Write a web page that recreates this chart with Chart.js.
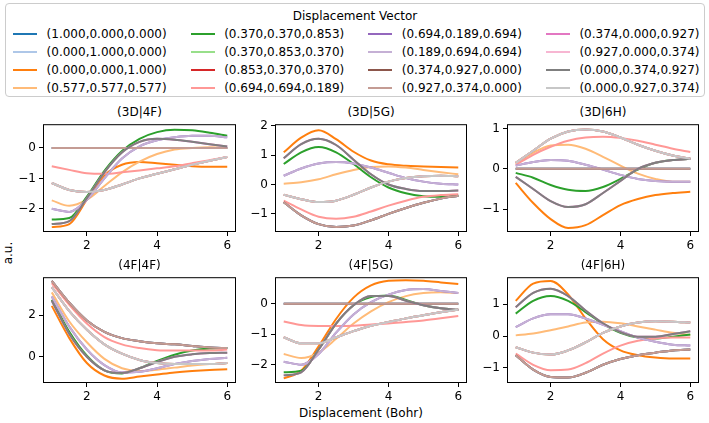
<!DOCTYPE html>
<html>
<head>
<meta charset="utf-8">
<script src="https://cdn.jsdelivr.net/npm/chart.js@4.4.1/dist/chart.umd.min.js"></script>
<style>
  body { margin: 0; width: 709px; height: 423px; position: relative; overflow: hidden; background: #fff;
         font-family: 'DejaVu Sans', sans-serif; color: #000; }
  #legend { position: absolute; left: 5px; top: 3px; width: 698px; height: 92px;
            border: 1px solid #ccc; border-radius: 4px; background: #fff; }
  .lg-title { position: absolute; left: 0; width: 100%; top: 5px; text-align: center; font-size: 12px; line-height: 14px; }
  .lg-line { position: absolute; width: 24px; height: 2px; }
  .lg-text { position: absolute; font-size: 12px; line-height: 14px; white-space: nowrap; }
  .ptitle { position: absolute; font-size: 12px; line-height: 14px; text-align: center; width: 200px; }
  canvas { position: absolute; }
  #xlab { position: absolute; left: 261px; width: 200px; top: 406px; text-align: center; font-size: 12px; line-height: 14px; }
  #ylab { position: absolute; left: -12px; top: 246px; width: 40px; text-align: center; font-size: 12px; line-height: 14px;
          transform: rotate(-90deg); }
</style>
</head>
<body>
<div id="legend"><div class="lg-title">Displacement Vector</div></div>
<div id="xlab">Displacement (Bohr)</div>
<div id="ylab">a.u.</div>
<script>
'use strict';

// ── data ────────────────────────────────────────────────────
const seriesLabels = [
  '(1.000,0.000,0.000)', '(0.000,1.000,0.000)', '(0.000,0.000,1.000)', '(0.577,0.577,0.577)',
  '(0.370,0.370,0.853)', '(0.370,0.853,0.370)', '(0.853,0.370,0.370)', '(0.694,0.694,0.189)',
  '(0.694,0.189,0.694)', '(0.189,0.694,0.694)', '(0.374,0.927,0.000)', '(0.927,0.374,0.000)',
  '(0.374,0.000,0.927)', '(0.927,0.000,0.374)', '(0.000,0.374,0.927)', '(0.000,0.927,0.374)'
];
const xs = [1, 1.5, 2, 2.5, 3, 3.5, 4, 4.5, 5, 5.5, 6];
const xTicks = [2, 4, 6];

// which read-off curve each vector follows (overlapping vectors share a curve)
const seriesCurve = ['lbrown', 'lbrown', 'orange', 'lorange', 'green', 'lgray', 'lgray', 'salmon',
                     'lpurple', 'lpurple', 'lbrown', 'lbrown', 'gray', 'lgray', 'gray', 'lgray'];

// (3D|4F)
const d3D4F_orange  = [-2.6, -2.5, -1.7, -0.9, -0.55, -0.46, -0.5, -0.55, -0.6, -0.62, -0.62];
const d3D4F_lorange = [-1.72, -1.9, -1.7, -1.25, -0.8, -0.45, -0.2, -0.05, 0.0, 0.02, 0.0];
const d3D4F_green   = [-2.35, -2.3, -1.6, -0.75, -0.1, 0.3, 0.52, 0.6, 0.58, 0.5, 0.4];
const d3D4F_salmon  = [-0.6, -0.72, -0.83, -0.85, -0.8, -0.74, -0.67, -0.6, -0.5, -0.4, -0.3];
const d3D4F_lpurple = [-2.0, -2.1, -1.7, -1.0, -0.35, 0.05, 0.25, 0.35, 0.4, 0.4, 0.35];
const d3D4F_lbrown  = [0, 0, 0, 0, 0, 0, 0, 0, 0, 0, 0];
const d3D4F_gray    = [-2.5, -2.4, -1.65, -0.8, -0.15, 0.2, 0.3, 0.27, 0.2, 0.12, 0.05];
const d3D4F_lgray   = [-1.15, -1.38, -1.45, -1.38, -1.2, -1.0, -0.85, -0.7, -0.55, -0.42, -0.3];

// (3D|5G)
const d3D5G_orange  = [1.1, 1.6, 1.85, 1.55, 1.12, 0.82, 0.69, 0.64, 0.62, 0.6, 0.58];
const d3D5G_lorange = [0.03, 0.08, 0.18, 0.35, 0.5, 0.6, 0.62, 0.58, 0.5, 0.42, 0.35];
const d3D5G_green   = [0.7, 1.1, 1.28, 1.1, 0.7, 0.25, -0.1, -0.3, -0.4, -0.42, -0.38];
const d3D5G_salmon  = [-0.55, -0.85, -1.1, -1.17, -1.1, -0.92, -0.72, -0.55, -0.42, -0.36, -0.33];
const d3D5G_lpurple = [0.3, 0.55, 0.72, 0.77, 0.72, 0.58, 0.4, 0.22, 0.1, 0.03, 0.0];
const d3D5G_lbrown  = [-0.6, -1.05, -1.35, -1.45, -1.4, -1.22, -1.0, -0.8, -0.62, -0.48, -0.38];
const d3D5G_gray    = [0.9, 1.38, 1.56, 1.35, 0.85, 0.35, 0.0, -0.15, -0.22, -0.22, -0.2];
const d3D5G_lgray   = [-0.35, -0.5, -0.6, -0.55, -0.35, -0.1, 0.1, 0.22, 0.28, 0.3, 0.28];

// (3D|6H)
const d3D6H_orange  = [-0.35, -0.85, -1.25, -1.47, -1.4, -1.15, -0.9, -0.75, -0.65, -0.6, -0.57];
const d3D6H_lorange = [0.12, 0.4, 0.58, 0.6, 0.5, 0.3, 0.08, -0.12, -0.25, -0.32, -0.32];
const d3D6H_green   = [-0.1, -0.22, -0.4, -0.52, -0.55, -0.45, -0.25, -0.02, 0.15, 0.22, 0.25];
const d3D6H_salmon  = [0.1, 0.35, 0.55, 0.7, 0.78, 0.8, 0.77, 0.7, 0.6, 0.5, 0.42];
const d3D6H_lpurple = [0.08, 0.17, 0.22, 0.2, 0.1, -0.02, -0.15, -0.25, -0.3, -0.32, -0.32];
const d3D6H_lbrown  = [0, 0, 0, 0, 0, 0, 0, 0, 0, 0, 0];
const d3D6H_gray    = [-0.2, -0.5, -0.8, -0.95, -0.88, -0.6, -0.3, 0.0, 0.15, 0.22, 0.25];
const d3D6H_lgray   = [0.15, 0.45, 0.75, 0.93, 0.98, 0.93, 0.78, 0.6, 0.45, 0.33, 0.25];

// (4F|4F)
const d4F4F_orange  = [2.45, 0.9, -0.3, -0.9, -1.05, -0.95, -0.85, -0.75, -0.68, -0.63, -0.6];
const d4F4F_lorange = [3.1, 1.7, 0.7, -0.1, -0.55, -0.68, -0.62, -0.52, -0.42, -0.35, -0.3];
const d4F4F_green   = [2.75, 1.2, 0.05, -0.65, -0.8, -0.55, -0.2, 0.1, 0.3, 0.4, 0.42];
const d4F4F_salmon  = [3.55, 2.5, 1.6, 0.95, 0.6, 0.42, 0.32, 0.3, 0.3, 0.3, 0.35];
const d4F4F_lpurple = [2.9, 1.45, 0.35, -0.4, -0.75, -0.72, -0.55, -0.35, -0.2, -0.1, -0.05];
const d4F4F_lbrown  = [3.65, 2.6, 1.75, 1.2, 0.9, 0.75, 0.65, 0.6, 0.52, 0.45, 0.42];
const d4F4F_gray    = [2.7, 1.1, 0.0, -0.65, -0.78, -0.55, -0.25, 0.0, 0.12, 0.18, 0.2];
const d4F4F_lgray   = [3.35, 2.2, 1.3, 0.6, 0.15, -0.15, -0.3, -0.35, -0.35, -0.35, -0.3];

// (4F|5G)
const d4F5G_orange  = [-2.45, -2.2, -1.4, -0.5, 0.2, 0.6, 0.75, 0.77, 0.75, 0.7, 0.65];
const d4F5G_lorange = [-1.65, -1.78, -1.6, -1.15, -0.65, -0.25, 0.05, 0.25, 0.35, 0.38, 0.35];
const d4F5G_green   = [-2.25, -2.2, -1.5, -0.65, -0.05, 0.22, 0.27, 0.12, -0.05, -0.15, -0.2];
const d4F5G_salmon  = [-0.58, -0.7, -0.73, -0.73, -0.72, -0.68, -0.65, -0.6, -0.55, -0.48, -0.4];
const d4F5G_lpurple = [-1.9, -2.0, -1.65, -0.95, -0.35, 0.05, 0.3, 0.45, 0.48, 0.42, 0.35];
const d4F5G_lbrown  = [0, 0, 0, 0, 0, 0, 0, 0, 0, 0, 0];
const d4F5G_gray    = [-2.35, -2.25, -1.5, -0.65, -0.05, 0.25, 0.25, 0.1, -0.05, -0.15, -0.2];
const d4F5G_lgray   = [-1.1, -1.3, -1.3, -1.1, -0.9, -0.72, -0.6, -0.48, -0.38, -0.28, -0.2];

// (4F|6H)
const d4F6H_orange  = [1.1, 1.64, 1.72, 1.3, 0.55, -0.1, -0.45, -0.6, -0.67, -0.7, -0.7];
const d4F6H_lorange = [0.02, 0.08, 0.18, 0.3, 0.42, 0.45, 0.4, 0.3, 0.2, 0.1, 0.03];
const d4F6H_green   = [0.7, 1.1, 1.25, 1.1, 0.75, 0.38, 0.1, -0.05, -0.08, -0.02, 0.05];
const d4F6H_salmon  = [-0.55, -0.9, -1.07, -1.05, -0.85, -0.55, -0.3, -0.15, -0.08, -0.05, -0.05];
const d4F6H_lpurple = [0.28, 0.55, 0.68, 0.68, 0.55, 0.35, 0.15, -0.05, -0.18, -0.27, -0.3];
const d4F6H_lbrown  = [-0.6, -1.05, -1.28, -1.3, -1.15, -0.9, -0.72, -0.6, -0.52, -0.45, -0.42];
const d4F6H_gray    = [0.9, 1.35, 1.48, 1.25, 0.8, 0.4, 0.12, -0.02, -0.02, 0.06, 0.15];
const d4F6H_lgray   = [-0.35, -0.52, -0.58, -0.45, -0.2, 0.1, 0.3, 0.42, 0.46, 0.45, 0.42];

// ── panels ──────────────────────────────────────────────────
const panels = [
  { title: '(3D|4F)', box: [43, 124, 236, 232], y: [-2.76, 0.78], yTicks: [-2, -1, 0],
    curves: { orange: d3D4F_orange, lorange: d3D4F_lorange, green: d3D4F_green, salmon: d3D4F_salmon,
              lpurple: d3D4F_lpurple, lbrown: d3D4F_lbrown, gray: d3D4F_gray, lgray: d3D4F_lgray } },
  { title: '(3D|5G)', box: [275, 124, 467, 232], y: [-1.62, 2.06], yTicks: [-1, 0, 1, 2],
    curves: { orange: d3D5G_orange, lorange: d3D5G_lorange, green: d3D5G_green, salmon: d3D5G_salmon,
              lpurple: d3D5G_lpurple, lbrown: d3D5G_lbrown, gray: d3D5G_gray, lgray: d3D5G_lgray } },
  { title: '(3D|6H)', box: [507, 124, 699, 232], y: [-1.57, 1.11], yTicks: [-1, 0, 1],
    curves: { orange: d3D6H_orange, lorange: d3D6H_lorange, green: d3D6H_green, salmon: d3D6H_salmon,
              lpurple: d3D6H_lpurple, lbrown: d3D6H_lbrown, gray: d3D6H_gray, lgray: d3D6H_lgray } },
  { title: '(4F|4F)', box: [43, 277, 236, 383], y: [-1.26, 3.83], yTicks: [0, 2],
    curves: { orange: d4F4F_orange, lorange: d4F4F_lorange, green: d4F4F_green, salmon: d4F4F_salmon,
              lpurple: d4F4F_lpurple, lbrown: d4F4F_lbrown, gray: d4F4F_gray, lgray: d4F4F_lgray } },
  { title: '(4F|5G)', box: [275, 277, 467, 383], y: [-2.6, 0.87], yTicks: [-2, -1, 0],
    curves: { orange: d4F5G_orange, lorange: d4F5G_lorange, green: d4F5G_green, salmon: d4F5G_salmon,
              lpurple: d4F5G_lpurple, lbrown: d4F5G_lbrown, gray: d4F5G_gray, lgray: d4F5G_lgray } },
  { title: '(4F|6H)', box: [507, 277, 699, 383], y: [-1.47, 1.84], yTicks: [-1, 0, 1],
    curves: { orange: d4F6H_orange, lorange: d4F6H_lorange, green: d4F6H_green, salmon: d4F6H_salmon,
              lpurple: d4F6H_lpurple, lbrown: d4F6H_lbrown, gray: d4F6H_gray, lgray: d4F6H_lgray } }
];

const colors = ['#1f77b4', '#aec7e8', '#ff7f0e', '#ffbb78', '#2ca02c', '#98df8a', '#d62728', '#ff9896',
                '#9467bd', '#c5b0d5', '#8c564b', '#c49c94', '#e377c2', '#f7b6d2', '#7f7f7f', '#c7c7c7'];

const minus = v => v < 0 ? '\u2212' + Math.abs(v) : String(v);

// ── legend (html) ───────────────────────────────────────────
const legend = document.getElementById('legend');
seriesLabels.forEach((lab, i) => {
  const col = Math.floor(i / 4), row = i % 4;
  const y = 29 + row * 18;
  const ln = document.createElement('div');
  ln.className = 'lg-line';
  ln.style.left = (7 + col * 177.6) + 'px';
  ln.style.top = y + 'px';
  ln.style.background = colors[i];
  legend.appendChild(ln);
  const tx = document.createElement('div');
  tx.className = 'lg-text';
  tx.style.left = (40.6 + col * 177.6) + 'px';
  tx.style.top = (y - 6) + 'px';
  tx.textContent = lab;
  legend.appendChild(tx);
});

// draw the full axes box like matplotlib
const frame = {
  id: 'frame',
  afterDraw(chart) {
    const a = chart.chartArea, ctx = chart.ctx;
    ctx.save();
    ctx.strokeStyle = '#000';
    ctx.lineWidth = 1;
    ctx.strokeRect(a.left + 0.5, a.top + 0.5, a.right - a.left - 1, a.bottom - a.top - 1);
    ctx.restore();
  }
};

Chart.defaults.font.family = "'DejaVu Sans', sans-serif";
Chart.defaults.font.size = 12;
Chart.defaults.color = '#000';

// ── one chart per panel ─────────────────────────────────────
panels.forEach(p => {
  const [L, T, R, B] = p.box;
  const padL = 40, padT = 10, padR = 10, padB = 30;

  const t = document.createElement('div');
  t.className = 'ptitle';
  t.style.left = ((L + R) / 2 - 100) + 'px';
  t.style.top = (T - 19) + 'px';
  t.textContent = p.title;
  document.body.appendChild(t);

  const cv = document.createElement('canvas');
  cv.width = (R - L) + padL + padR;
  cv.height = (B - T) + padT + padB;
  cv.style.left = (L - padL) + 'px';
  cv.style.top = (T - padT) + 'px';
  document.body.appendChild(cv);

  // later vectors are painted over earlier ones, as in the reference
  const datasets = seriesLabels.map((lab, i) => ({
    label: lab,
    order: seriesLabels.length - 1 - i,
    data: xs.map((x, k) => ({ x, y: p.curves[seriesCurve[i]][k] })),
    borderColor: colors[i],
    borderWidth: 2,
    pointRadius: 0,
    cubicInterpolationMode: 'monotone',
    fill: false
  }));

  new Chart(cv.getContext('2d'), {
    type: 'line',
    data: { datasets },
    plugins: [frame],
    options: {
      responsive: false,
      animation: false,
      layout: { padding: { top: padT, right: padR, left: 0, bottom: 0 } },
      plugins: { legend: { display: false }, tooltip: { enabled: false } },
      scales: {
        x: {
          type: 'linear', min: 0.75, max: 6.25,
          afterBuildTicks: s => { s.ticks = xTicks.map(v => ({ value: v })); },
          afterFit: s => { s.height = padB; },
          grid: { drawOnChartArea: false, drawTicks: true, tickLength: 4, color: '#000' },
          border: { display: false },
          ticks: { padding: 3, maxRotation: 0, callback: v => minus(v) }
        },
        y: {
          type: 'linear', min: p.y[0], max: p.y[1],
          afterBuildTicks: s => { s.ticks = p.yTicks.map(v => ({ value: v })); },
          afterFit: s => { s.width = padL; },
          grid: { drawOnChartArea: false, drawTicks: true, tickLength: 4, color: '#000' },
          border: { display: false },
          ticks: { padding: 3, callback: v => minus(v) }
        }
      }
    }
  });
});
</script>
</body>
</html>
